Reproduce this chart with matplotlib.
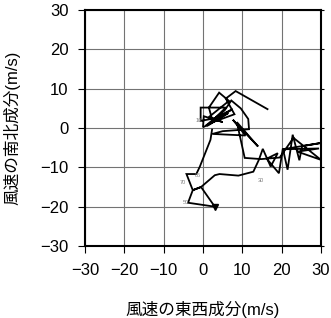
#!/bin/env python3

'''
Hodograph of the wind components (u, v)
'''

import matplotlib
matplotlib.use("Agg")
import matplotlib.pyplot as plt

plt.rcParams['font.family'] = ['Liberation Sans', 'Noto Sans CJK JP']
plt.rcParams['axes.unicode_minus'] = True

##############################################################
# Data
##############################################################
# east-west (u) and north-south (v) wind components, m/s
u = [2.3, 1.9, -0.8, -1.7, -4.2, -2.6, -3.8, 3.0, -0.5, -2.6, -0.5, 3.0,
     4.2, 9.0, 12.8, 14.2, 15.2, 17.2, 19.0, 16.2, 19.3, 20.3, 21.5, 22.8,
     24.5, 25.2, 30.0, 20.3, 29.5, 24.0, 30.0, 23.0, 19.5, 14.8, 10.6, 8.6,
     14.0, 7.6, 10.8, 2.4, 5.0, 11.7, 11.5, 9.6, 7.2, 5.5, 0.7, 7.5, 3.0,
     -0.6, -0.6, 5.8, 1.0, 6.4, 2.0, 0.0, 0.2, 5.0, 1.5, 6.6, 4.1, 1.5,
     2.5, 8.0, 5.8, 8.3, 16.4]
v = [-0.4, -3.0, -9.8, -11.7, -11.7, -15.8, -19.0, -20.0, -15.0, -15.8, -15.0, -12.0,
     -11.7, -12.1, -11.1, -8.1, -5.3, -9.8, -6.4, -7.8, -11.5, -5.2, -10.6, -1.7,
     -8.2, -4.6, -3.8, -5.4, -5.2, -6.0, -8.1, -2.5, -7.5, -7.9, -7.6, 1.5,
     -4.7, 2.1, -1.9, -1.5, -0.8, -0.3, 2.3, 5.0, 7.0, 4.5, 0.6, 4.8, 2.5,
     1.8, 5.2, 5.2, 0.5, 3.8, 1.2, 0.2, 3.0, 1.5, 2.8, 6.9, 9.0, 5.2,
     1.5, 3.5, 7.5, 9.4, 4.8]

# pressure level labels (hPa / 10) and where they sit
level_text = ["10", "85", "70", "50", "30"]
level_u = [-1.0, -1.4, -5.2, -4.3, 14.6]
level_v = [1.9, -12.0, -13.9, -18.9, -13.3]

ticks = [-30, -20, -10, 0, 10, 20, 30]


##############################################################
# Plot
##############################################################
fig = plt.figure(figsize=(3.31, 3.18), dpi=100)
ax = fig.add_axes([0.2568, 0.2264, 0.713, 0.742])

ax.set_xlim(-30, 30)
ax.set_ylim(-30, 30)
ax.set_xticks(ticks)
ax.set_yticks(ticks)
ax.grid(True, color="0.45", linewidth=0.8)
ax.set_axisbelow(True)

ax.plot(u, v, color="black", linewidth=1.3, solid_joinstyle="miter")
ax.plot(u[7], v[7], marker="v", color="black", markersize=4)

for t, x, y in zip(level_text, level_u, level_v):
    ax.text(x, y, t, fontsize=4, color="0.5", ha="center", va="center")

for s in ax.spines.values():
    s.set_linewidth(1.5)

ax.tick_params(axis="both", which="major", direction="out", length=5,
               width=0.8, pad=7, labelsize=12)
ax.tick_params(axis="y", which="major", right=True, labelright=False)
for tk in ax.yaxis.get_major_ticks():
    tk.tick2line.set_markersize(2)

ax.set_xlabel("風速の東西成分(m/s)", fontsize=12)
ax.set_ylabel("風速の南北成分(m/s)", fontsize=12)
ax.xaxis.set_label_coords(0.5, -0.233)
ax.yaxis.set_label_coords(-0.272, 0.5)

fig.savefig("out.png", dpi=100)
